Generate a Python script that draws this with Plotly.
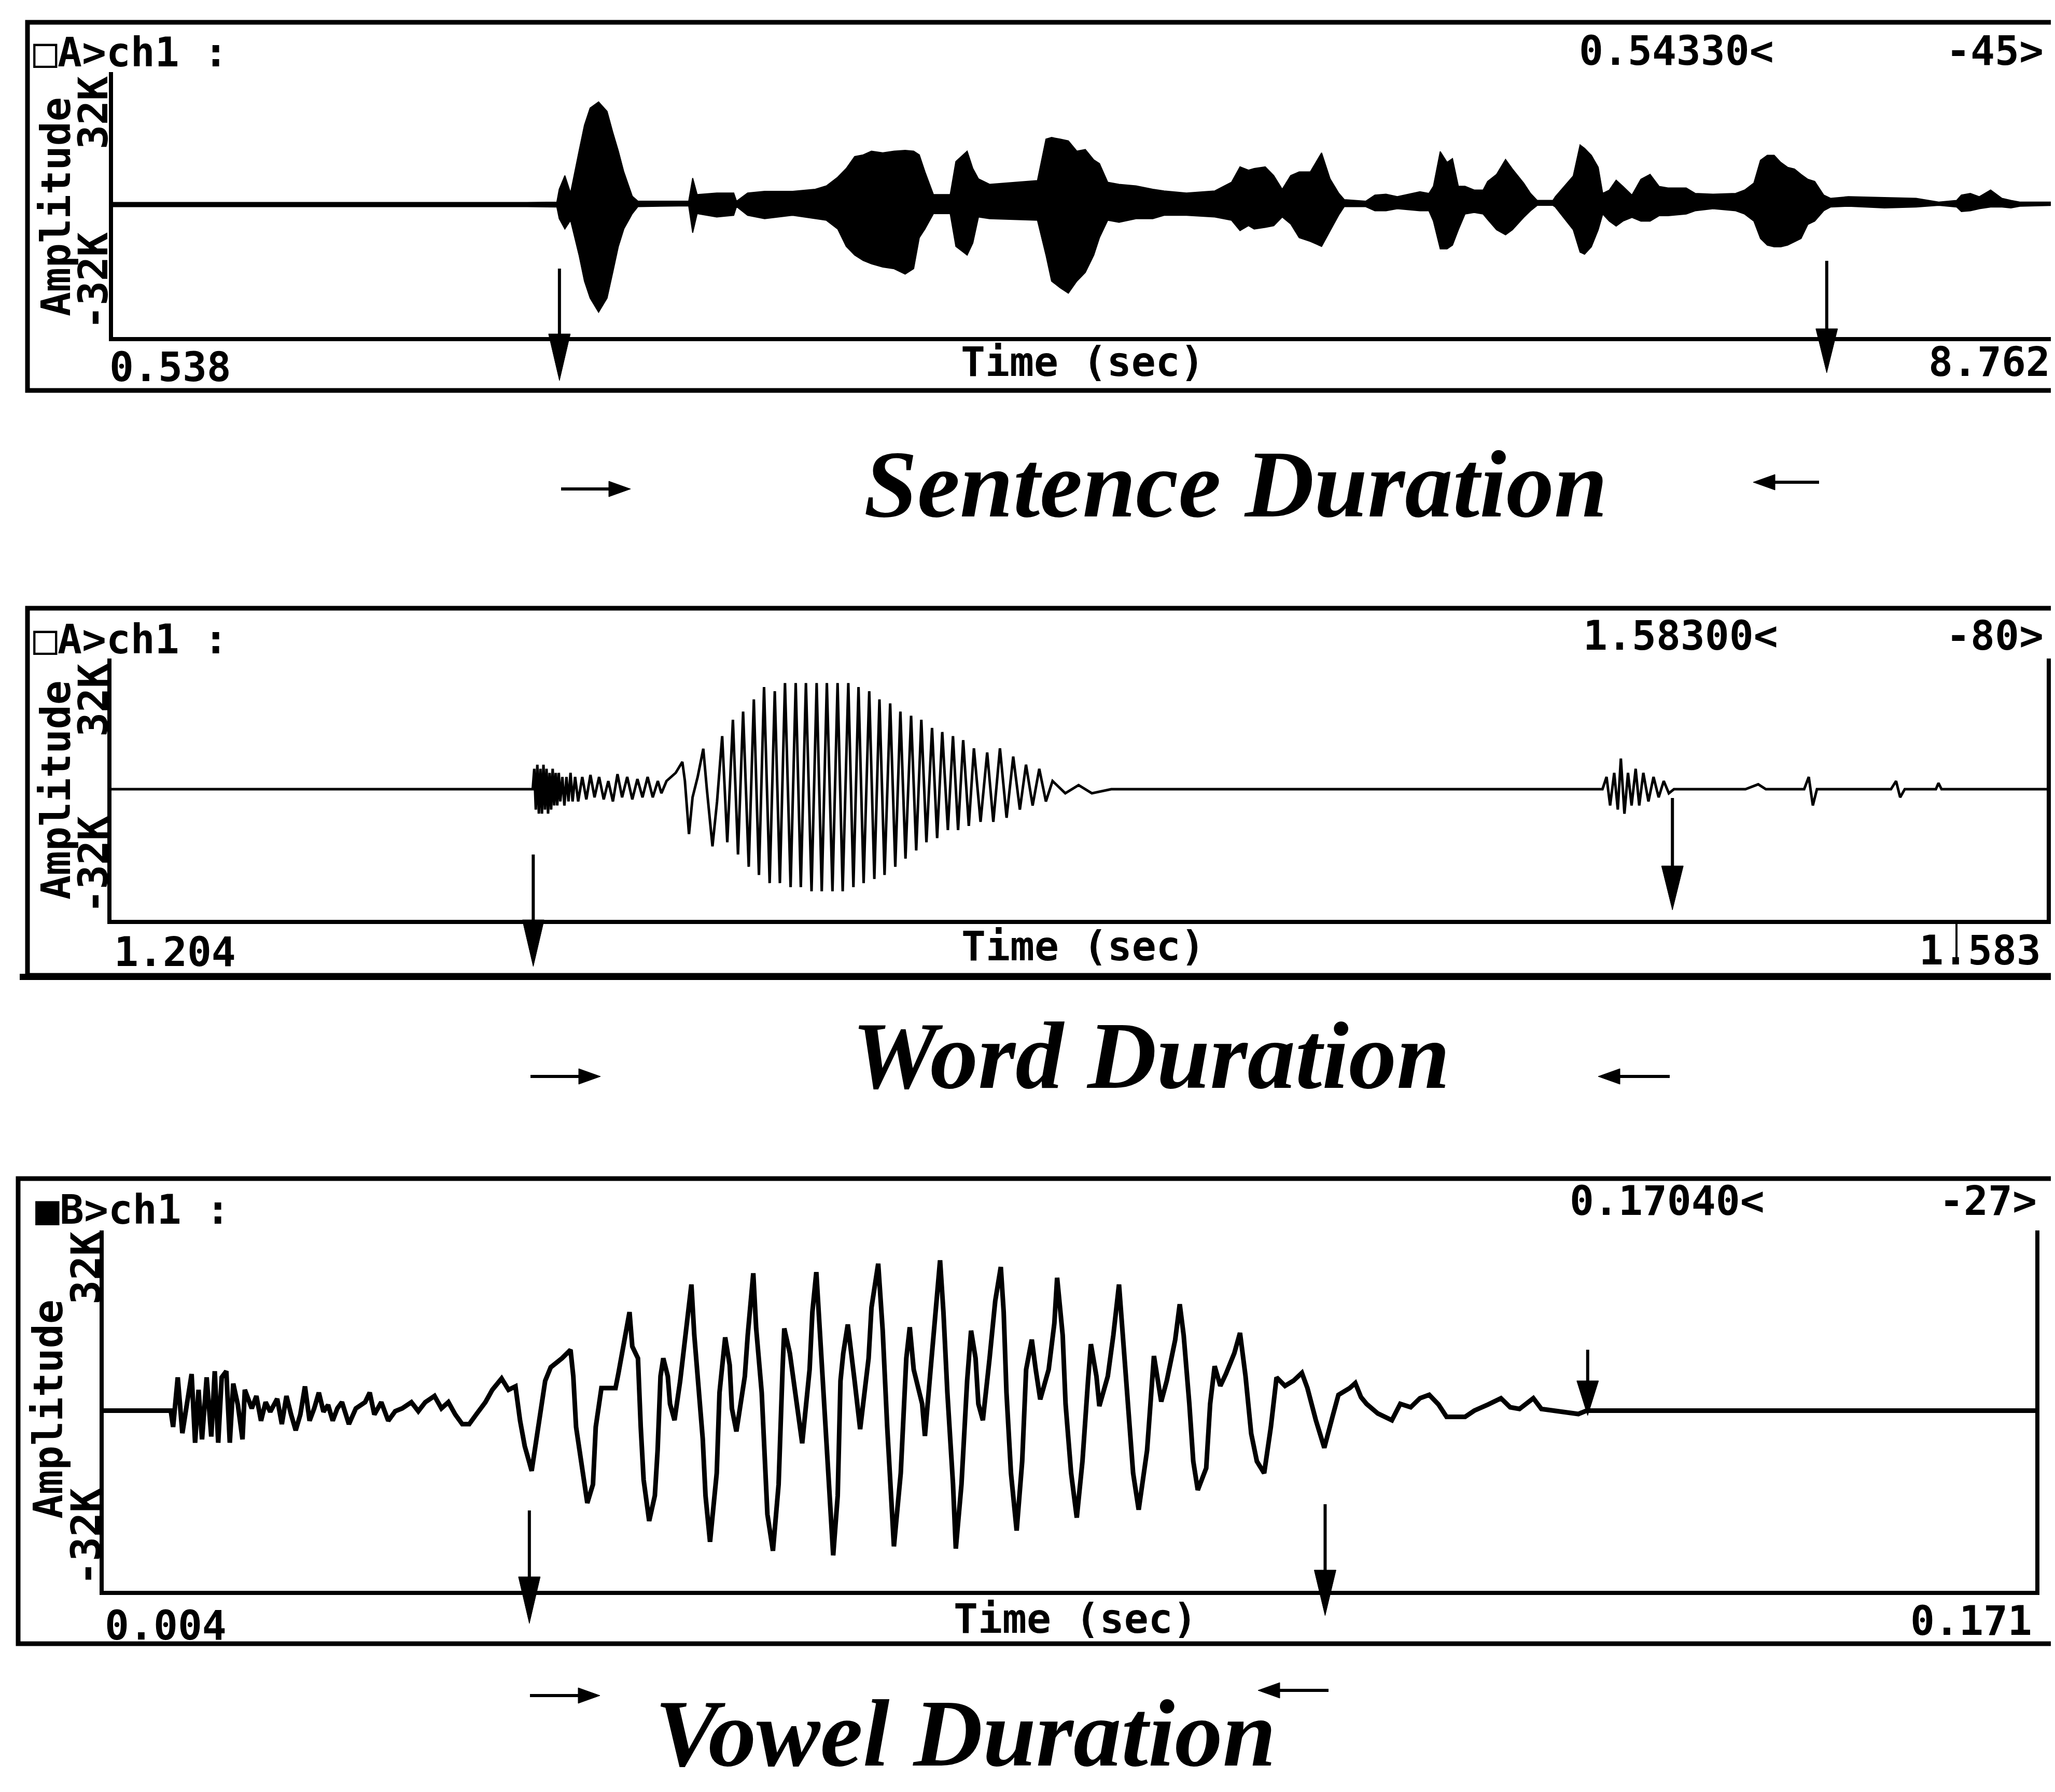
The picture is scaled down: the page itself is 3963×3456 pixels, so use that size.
import plotly.graph_objects as go

W, H = 3963, 3456

# ---------------- data ----------------
sent_range = [0.538, 8.762]      # seconds
word_range = [1.204, 1.583]      # seconds
vowel_range = [0.004, 0.171]     # seconds
amp_range = [-32, 32]            # thousands (K)

# Sentence: envelope of the dense waveform (time s, upper K, lower K)
sent_t = [0.538, 2.275, 2.420, 2.430, 2.454, 2.478, 2.514, 2.537, 2.561, 2.597, 2.633,
          2.657, 2.681, 2.704, 2.740, 2.764, 2.979, 2.996, 3.015, 3.098, 3.170,
          3.182, 3.229, 3.301, 3.420, 3.516, 3.563, 3.611, 3.647, 3.683, 3.719,
          3.754, 3.802, 3.850, 3.897, 3.933, 3.957, 3.981, 4.017, 4.088, 4.112,
          4.160, 4.184, 4.208, 4.255, 4.458, 4.494, 4.518, 4.554, 4.589, 4.625,
          4.661, 4.697, 4.721, 4.756, 4.804, 4.876, 4.947, 4.995, 5.090, 5.210,
          5.281, 5.317, 5.353, 5.377, 5.424, 5.460, 5.496, 5.532, 5.568, 5.615,
          5.663, 5.699, 5.735, 5.759, 5.850, 5.889, 5.936, 5.984, 6.080, 6.118,
          6.137, 6.166, 6.195, 6.218, 6.243, 6.271, 6.310, 6.348, 6.367, 6.405,
          6.443, 6.472, 6.520, 6.549, 6.577, 6.644, 6.654, 6.730, 6.759, 6.778,
          6.807, 6.836, 6.855, 6.883, 6.912, 6.941, 6.979, 7.017, 7.056, 7.094,
          7.132, 7.209, 7.247, 7.323, 7.419, 7.457, 7.496, 7.524, 7.553, 7.582,
          7.610, 7.639, 7.668, 7.696, 7.725, 7.754, 7.792, 7.821, 7.897, 8.050,
          8.184, 8.280, 8.356, 8.376, 8.414, 8.452, 8.500, 8.548, 8.586, 8.624,
          8.762]
sent_upper = [0.5, 0.5, 0.6, 3.7, 7.0, 2.8, 12.9, 19.2, 23.3, 24.8, 22.5,
              17.5, 12.9, 7.9, 2.0, 0.8, 0.8, 6.4, 2.4, 2.8, 2.8,
              0.8, 2.8, 3.2, 3.2, 3.7, 4.5, 6.6, 8.7, 11.6, 12.0,
              12.9, 12.5, 12.9, 13.1, 12.9, 12.0, 7.9, 2.4, 2.4, 10.4,
              12.9, 8.7, 6.2, 4.9, 5.8, 15.8, 16.2, 15.8, 15.4, 12.9,
              13.3, 10.8, 9.9, 5.4, 4.9, 4.5, 3.7, 3.3, 2.8, 3.3,
              5.4, 9.1, 8.3, 8.7, 9.1, 7.0, 3.7, 7.0, 7.9, 7.9,
              12.5, 6.2, 2.8, 1.2, 0.8, 2.3, 2.5, 1.9, 3.1, 2.7,
              4.4, 12.8, 10.2, 11.1, 4.4, 4.4, 3.5, 3.5, 5.6, 7.3,
              10.9, 8.6, 5.2, 2.7, 1.0, 1.0, 1.9, 6.9, 14.4, 13.6,
              11.9, 9.0, 2.7, 3.5, 5.9, 4.4, 2.3, 6.1, 7.3, 4.4,
              4.0, 4.0, 2.7, 2.5, 2.7, 3.5, 5.2, 10.7, 11.9, 11.9,
              10.2, 9.0, 8.6, 7.3, 6.1, 5.6, 2.3, 1.5, 1.9, 1.7,
              1.5, 0.6, 1.0, 2.3, 2.7, 1.9, 3.5, 1.5, 1.0, 0.6,
              0.6]
sent_lower = [-0.5, -0.5, -0.6, -3.4, -5.9, -3.8, -12.2, -18.5, -22.6, -26.0, -22.6,
              -16.4, -10.1, -5.9, -2.2, -0.5, -0.3, -6.8, -2.2, -3.0, -2.6,
              -0.5, -2.6, -3.4, -2.6, -3.4, -3.8, -5.9, -10.1, -12.2, -13.5,
              -14.3, -15.1, -15.5, -16.8, -15.5, -8.0, -5.9, -2.2, -2.2, -10.1,
              -12.2, -9.3, -3.0, -3.4, -3.8, -12.2, -18.5, -20.1, -21.4, -18.5,
              -16.4, -12.2, -8.0, -3.8, -4.3, -3.4, -3.4, -2.6, -2.6, -3.0,
              -3.8, -6.3, -5.1, -5.9, -5.5, -5.1, -3.0, -4.7, -8.0, -8.9,
              -10.1, -6.3, -2.6, -0.5, -0.5, -1.5, -1.5, -1.0, -1.5, -1.5,
              -4.0, -10.7, -10.7, -9.8, -6.1, -2.3, -1.9, -2.3, -3.6, -6.1,
              -7.3, -6.1, -3.1, -1.5, -0.2, -0.2, -0.6, -6.1, -11.5, -12.0,
              -10.2, -6.1, -2.3, -4.0, -5.2, -4.0, -3.1, -4.0, -4.0, -2.7,
              -2.7, -2.3, -1.5, -1.0, -1.5, -2.3, -4.0, -8.2, -9.8, -10.2,
              -10.2, -9.8, -9.0, -8.2, -4.8, -4.0, -1.5, -0.6, -0.4, -0.8,
              -0.6, -0.2, -0.6, -1.7, -1.5, -1.0, -0.6, -0.6, -0.8, -0.4,
              -0.2]

# Word: waveform samples (time ms, amplitude K)
word_t_ms = [1204.0, 1286.5,
             1286.8, 1287.1, 1287.4, 1287.7, 1288.0, 1288.3, 1288.6, 1288.9, 1289.2, 1289.5,
             1289.8, 1290.1, 1290.4, 1290.7, 1291.0, 1291.3, 1291.6, 1291.9, 1292.3, 1292.7,
             1293.1, 1293.5, 1293.9, 1294.3, 1294.8, 1295.4, 1296.2, 1297.0, 1297.8, 1298.6,
             1299.5, 1300.4, 1301.3, 1302.2, 1303.1, 1304.0, 1305.0, 1306.0, 1307.0, 1308.0,
             1309.0, 1310.0, 1311.0, 1311.7, 1312.7, 1314.5, 1315.8, 1316.3, 1317.1, 1317.8,
             1318.8, 1319.9, 1320.6, 1321.7, 1322.6,
             1323.6, 1324.6, 1325.7, 1326.7, 1327.7, 1328.8,
             1329.8, 1330.8, 1331.8, 1332.9, 1333.9, 1334.9, 1335.9, 1337.0, 1338.0, 1339.0,
             1340.0, 1341.1, 1342.1, 1343.1, 1344.1, 1345.2, 1346.2, 1347.2, 1348.3, 1349.3,
             1350.3, 1351.3, 1352.4, 1353.4, 1354.4, 1355.4, 1356.5, 1357.5, 1358.5, 1359.5,
             1360.6, 1361.6, 1362.6, 1363.6, 1364.7, 1365.7, 1366.7, 1367.8, 1368.8, 1369.8,
             1370.8, 1371.9, 1372.9, 1374.2, 1375.5, 1376.7, 1378.0, 1379.3, 1380.6, 1381.9,
             1383.1, 1384.4, 1385.7, 1387.0, 1388.3, 1390.8, 1393.4, 1396.0, 1399.8, 1496.0,
             1496.8, 1497.5, 1498.3, 1499.0, 1499.6, 1500.3, 1501.0, 1501.7, 1502.5, 1503.2,
             1504.0, 1505.0, 1506.0, 1507.0, 1508.0, 1509.0, 1510.0, 1524.0, 1526.5, 1528.0,
             1535.5, 1536.4, 1537.2, 1538.0, 1552.5, 1553.5, 1554.3, 1555.2, 1561.3, 1561.8,
             1562.4, 1583.0]
word_amp = [0, 0,
            5, -5, 6, -6, 5, -6, 6, -5, 5, -6,
            4, -5, 5, -4, 4, -4, 4, -3, 3, -4,
            3, -3, 4, -3, 3, -3, 3, -2.5, 3.5, -2,
            3, -2.5, 2, -3, 3.7, -2, 3, -2.5, 2.5, -2,
            3, -2, 2, -1, 2, 4, 6.7, 2, -11, -2,
            3, 9.9, 0, -14, -3,
            13, -13, 17, -16, 19, -19,
            22, -21, 25, -23, 24, -23, 26, -24, 26, -24,
            26, -25, 26, -25, 26, -25, 26, -25, 26, -24,
            25, -23, 24, -22, 22, -21, 21, -19, 19, -17,
            18, -15, 17, -13, 15, -12, 14, -10, 13, -10,
            12, -9, 10, -8, 9, -8, 10, -7, 8, -5,
            6, -4, 5, -3, 2, -1, 1, -1, 0, 0,
            3, -4, 4, -5, 7.5, -6, 4, -4, 5, -4,
            4, -3, 3, -2, 2, -1, 0, 0, 1.2, 0,
            0, 3, -4, 0, 0, 2, -2, 0, 0, 1.5,
            0, 0]

# Vowel: waveform samples (time ms, amplitude K)
vowel_t_ms = [4.0, 9.8, 10.0, 10.4, 10.8, 11.2, 11.6, 11.9, 12.2, 12.5,
              12.9, 13.3, 13.6, 13.9, 14.2, 14.6, 14.9, 15.2, 15.6, 16.0,
              16.2, 16.8, 17.2, 17.6, 18.0, 18.4, 19.0, 19.4, 19.8, 20.2,
              20.6, 21.0, 21.4, 21.8, 22.2, 22.6, 23.0, 23.4, 23.8, 24.2,
              24.6, 25.2, 25.8, 26.6, 27.0, 27.4, 28.0, 28.6, 29.2, 29.8,
              30.6, 31.2, 31.8, 32.6, 33.2, 33.8, 34.4, 35.0, 35.6, 36.2,
              37.0, 37.6, 38.4, 39.0, 39.6, 40.0, 40.4, 41.0, 41.68, 42.17,
              42.65, 43.14, 43.62, 44.36, 44.60, 44.84, 45.33, 45.81, 46.30, 46.54,
              47.03, 48.25, 48.49, 48.98, 49.46, 49.70, 50.19, 50.43, 50.68, 51.16,
              51.65, 51.89, 52.14, 52.38, 52.77, 52.96, 53.35, 53.84, 54.33, 54.81,
              55.06, 55.54, 55.79, 56.03, 56.42, 57.00, 57.24, 57.73, 58.12, 58.31,
              58.70, 59.43, 59.68, 60.16, 60.41, 60.89, 61.14, 61.38, 61.86, 62.35,
              62.69, 62.84, 63.32, 63.57, 64.05, 64.39, 65.03, 65.27, 65.61, 65.90,
              66.24, 66.73, 67.07, 67.46, 67.70, 67.94, 68.33, 68.92, 69.40, 70.13,
              70.38, 70.96, 71.35, 71.74, 72.08, 72.32, 72.91, 73.39, 73.69, 74.03,
              74.76, 75.00, 75.49, 75.97, 76.31, 76.60, 76.94, 77.43, 77.67, 78.16,
              78.65, 78.99, 79.38, 79.62, 80.01, 80.59, 81.08, 81.56, 81.81, 82.05,
              82.44, 82.93, 83.41, 83.75, 84.24, 84.58, 84.97, 85.70, 86.19, 86.43,
              86.91, 87.16, 87.64, 88.13, 88.62, 89.10, 89.35, 89.83, 90.08, 90.81,
              91.29, 91.78, 92.02, 92.51, 93.00, 93.48, 94.21, 94.80, 95.09, 95.43,
              95.91, 96.64, 97.03, 97.37, 97.86, 98.20, 98.59, 99.32, 99.66, 100.05,
              100.54, 101.02, 101.75, 102.24, 102.72, 103.21, 103.70, 104.33, 104.91, 105.40,
              106.13, 106.86, 107.59, 108.07, 108.80, 109.53, 110.26, 110.75, 111.72, 112.21,
              112.70, 113.18, 114.15, 115.37, 116.10, 117.0, 117.8, 118.6, 119.4, 120.1,
              121.7, 122.5, 123.7, 124.8, 125.6, 126.4, 127.6, 128.3, 131.5, 132.2,
              171.0]
vowel_amp = [0, 0, -2.9, 5.9, -4.0, 1.5, 6.5, -5.7, 3.7, -5.1,
             5.9, -4.6, 7.0, -5.7, 5.9, 7.0, -5.7, 4.8, 1.0, -5.1,
             3.7, 0.4, 2.6, -1.8, 1.5, -0.2, 2.1, -2.4, 2.6, -0.7,
             -3.5, -0.7, 4.3, -1.8, 0.4, 3.2, -0.2, 1.0, -1.8, 0.4,
             1.5, -2.4, 0.4, 1.5, 3.2, -0.7, 1.5, -1.8, -0.1, 0.4,
             1.5, -0.1, 1.5, 2.6, 0.4, 1.5, -0.7, -2.4, -2.4, -0.7,
             1.5, 3.7, 5.7, 3.7, 4.3, -1.8, -6.3, -10.7, -0.9, 5.3,
             7.7, 8.5, 9.3, 10.8, 6.1, -2.9, -10.2, -16.4, -13.1, -2.9,
             4.0, 4.0, 6.5, 11.8, 17.5, 11.4, 9.3, -2.9, -12.3, -19.6,
             -15.1, -7.0, 6.1, 9.3, 6.1, 1.2, -1.7, 5.3, 14.2, 22.4,
             13.4, 1.2, -5.0, -15.1, -23.3, -11.1, 3.2, 13.0, 8.1, 0.4,
             -3.7, 6.1, 13.4, 24.4, 14.6, 3.2, -7.0, -18.4, -24.9, -13.1,
             7.3, 14.6, 10.2, 6.1, -0.5, -5.8, 7.3, 17.5, 24.6, 15.1,
             3.2, -13.1, -25.7, -15.1, 5.3, 10.2, 15.3, 5.3, -3.3, 9.3,
             18.3, 26.1, 14.2, -2.9, -17.2, -24.1, -11.1, 9.3, 14.8, 7.3,
             1.2, -4.5, 7.3, 17.5, 26.7, 17.5, 3.2, -13.1, -24.5, -13.1,
             5.3, 14.2, 9.3, 1.2, -1.7, 9.3, 19.5, 25.5, 17.5, 3.2,
             -11.1, -21.3, -9.0, 7.3, 12.6, 7.3, 2.0, 7.3, 15.5, 23.6,
             13.4, 1.2, -11.1, -19.0, -9.0, 5.3, 11.8, 6.1, 0.8, 6.1,
             13.4, 22.4, 15.5, 1.2, -11.1, -17.6, -7.0, 9.7, 5.3, 1.6,
             5.3, 12.6, 18.9, 13.4, 1.2, -9.0, -14.1, -10.2, 1.2, 7.9,
             4.4, 6.5, 10.2, 13.8, 6.1, -4.1, -9.0, -11.1, -2.9, 5.9,
             4.4, 5.3, 6.7, 4.0, -1.7, -6.6, -0.9, 2.8, 4.0, 4.9,
             2.4, 1.2, -0.5, -1.7, 1.2, 0.6, 2.2, 2.8, 1.1, -1.1,
             -1.1, 0, 1.1, 2.2, 0.6, 0.3, 2.2, 0.3, -0.6, 0,
             0]

# Boundary markers (times, s)
sent_marks = [2.431, 7.805]
word_marks = [1.2866, 1.5097]
vowel_marks = [0.0408, 0.1096, 0.1323]

channel_labels = ["\u25a1A&gt;ch1 :", "\u25a1A&gt;ch1 :", "\u25a0B&gt;ch1 :"]
cursor_times = ["0.54330&lt;", "1.58300&lt;", "0.17040&lt;"]
cursor_levels = ["-45&gt;", "-80&gt;", "-27&gt;"]
captions = ["Sentence Duration", "Word Duration", "Vowel Duration"]

# ---------------- layout geometry (pixels) ----------------
MONO = "DejaVu Sans Mono"
SERIF = "Liberation Serif"
FS = 78


def px(x):
    return x / W


def py(y):
    return 1 - y / H


panels = [
    dict(frame=(45, 35, 3952, 745), plot=(210, 131, 3950, 642), mirror=False,
         chan=(54, 93), cur=(3035, 90), lev=(3935, 90), ampl=(100, 391),
         k_hi=(172, 210), k_lo=(172, 534), lo_lab=(201, 700), time=(2080, 690),
         hi_lab=(3948, 690),
         marks=[(510, 636, 726), (495, 626, 711)],
         cap=(2375, 925), cap_arrows=[(1074, 1208, 935), (3500, 3373, 922)]),
    dict(frame=(45, 1165, 3957, 1873), plot=(207, 1262, 3939, 1766), mirror=True,
         chan=(54, 1225), cur=(3043, 1218), lev=(3935, 1218), ampl=(100, 1516),
         k_hi=(172, 1343), k_lo=(172, 1660), lo_lab=(210, 1828), time=(2081, 1817),
         hi_lab=(3930, 1825),
         marks=[(1640, 1766, 1856), (1531, 1662, 1747)],
         cap=(2211, 2027), cap_arrows=[(1015, 1150, 2068), (3212, 3074, 2068)]),
    dict(frame=(27, 2265, 3952, 3162), plot=(192, 2365, 3917, 3060), mirror=True,
         chan=(58, 2325), cur=(3017, 2308), lev=(3922, 2308), ampl=(85, 2710),
         k_hi=(158, 2438), k_lo=(158, 2956), lo_lab=(192, 3127), time=(2066, 3114),
         hi_lab=(3913, 3118),
         marks=[(2905, 3033, 3123), (2893, 3020, 3108), (2595, 2655, 2722)],
         cap=(1854, 3334), cap_arrows=[(1014, 1149, 3262), (2554, 2418, 3252)]),
]
ranges = [sent_range, word_range, vowel_range]
mark_lists = [sent_marks, word_marks, vowel_marks]

fig = go.Figure()

# Sentence waveform (filled envelope)
fig.add_trace(go.Scatter(
    x=sent_t + sent_t[::-1], y=sent_upper + sent_lower[::-1],
    mode="lines", fill="toself", fillcolor="black",
    line=dict(color="black", width=2), xaxis="x", yaxis="y",
    hoverinfo="skip", showlegend=False))

# Word waveform
fig.add_trace(go.Scatter(
    x=[t / 1000 for t in word_t_ms], y=word_amp, mode="lines",
    line=dict(color="black", width=5), xaxis="x2", yaxis="y2",
    hoverinfo="skip", showlegend=False))

# Vowel waveform
fig.add_trace(go.Scatter(
    x=[t / 1000 for t in vowel_t_ms], y=vowel_amp, mode="lines",
    line=dict(color="black", width=9), xaxis="x3", yaxis="y3",
    hoverinfo="skip", showlegend=False))

layout = dict(width=W, height=H, margin=dict(l=0, r=0, t=0, b=0),
              paper_bgcolor="white", plot_bgcolor="white", showlegend=False)
shapes = []
annotations = []


def text(t, x, y, anchor="left", angle=0, size=FS):
    annotations.append(dict(
        text="<b>" + t + "</b>", x=px(x), y=py(y), xref="paper", yref="paper",
        xanchor=anchor, yanchor="middle", showarrow=False, textangle=angle,
        font=dict(family=MONO, size=size, color="black")))


for i, p in enumerate(panels):
    sfx = "" if i == 0 else str(i + 1)
    x0, y0, x1, y1 = p["plot"]
    rng = ranges[i]
    common = dict(showline=True, linecolor="black", linewidth=8, showgrid=False,
                  zeroline=False, showticklabels=False, ticks="", fixedrange=True)
    layout["xaxis" + sfx] = dict(domain=[px(x0), px(x1)], range=rng,
                                 anchor="y" + sfx, **common)
    layout["yaxis" + sfx] = dict(domain=[py(y1), py(y0)], range=amp_range,
                                 anchor="x" + sfx, mirror=p["mirror"], **common)

    fx0, fy0, fx1, fy1 = p["frame"]
    shapes.append(dict(type="rect", xref="paper", yref="paper",
                       x0=px(fx0), x1=px(fx1), y0=py(fy1), y1=py(fy0),
                       line=dict(color="black", width=9), layer="above"))

    # texts
    text(channel_labels[i], *p["chan"])
    text(cursor_times[i], *p["cur"])
    text(cursor_levels[i], *p["lev"], anchor="right")
    text("Amplitude", *p["ampl"], anchor="center", angle=-90)
    text("32K", *p["k_hi"], anchor="center", angle=-90)
    text("-32K", *p["k_lo"], anchor="center", angle=-90)
    text(f"{rng[0]:.3f}", *p["lo_lab"])
    text("Time (sec)", *p["time"], anchor="center")
    text(f"{rng[1]:.3f}", *p["hi_lab"], anchor="right")

    # boundary markers (down arrows)
    per_px = (rng[1] - rng[0]) / (x1 - x0)
    hw = 21 * per_px
    xref = "x" + sfx
    for t, (ytail, yhead, ytip) in zip(mark_lists[i], p["marks"]):
        shapes.append(dict(type="line", xref=xref, yref="paper", x0=t, x1=t,
                           y0=py(ytail), y1=py(yhead + 4),
                           line=dict(color="black", width=6)))
        shapes.append(dict(type="path", xref=xref, yref="paper",
                           path=f"M {t - hw},{py(yhead)} L {t + hw},{py(yhead)} L {t},{py(ytip)} Z",
                           fillcolor="black", line=dict(color="black", width=1)))

    # caption
    cx, cy = p["cap"]
    annotations.append(dict(
        text="<b><i>" + captions[i] + "</i></b>", x=px(cx), y=py(cy),
        xref="paper", yref="paper", xanchor="center", yanchor="middle",
        showarrow=False, font=dict(family=SERIF, size=185, color="black")))

    # small horizontal arrows around caption
    for xt, xh, ya in p["cap_arrows"]:
        d = 1 if xh > xt else -1
        hl = 42
        shapes.append(dict(type="line", xref="paper", yref="paper",
                           x0=px(xt), x1=px(xh - d * hl + d * 4), y0=py(ya), y1=py(ya),
                           line=dict(color="black", width=6)))
        shapes.append(dict(type="path", xref="paper", yref="paper",
                           path=f"M {px(xh - d * hl)},{py(ya - 15)} L {px(xh - d * hl)},{py(ya + 15)} L {px(xh)},{py(ya)} Z",
                           fillcolor="black", line=dict(color="black", width=1)))

# extra details: thick bottom rule of panel 2 and the split mark by "1.583"
shapes.append(dict(type="line", xref="paper", yref="paper", x0=px(30), x1=px(3960),
                   y0=py(1876), y1=py(1876), line=dict(color="black", width=12)))
shapes.append(dict(type="line", xref="paper", yref="paper", x0=px(3765), x1=px(3765),
                   y0=py(1766), y1=py(1849), line=dict(color="black", width=4)))

layout["shapes"] = shapes
layout["annotations"] = annotations
fig.update_layout(**layout)

fig.write_html("out.html")
